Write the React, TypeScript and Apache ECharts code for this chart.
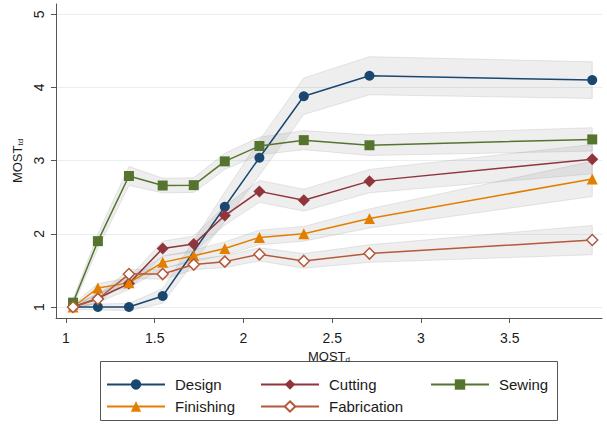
import React, { useEffect, useRef } from "react";
import * as echarts from "echarts";

const xValues = [1.04, 1.18, 1.355, 1.545, 1.72, 1.895, 2.09, 2.34, 2.71, 3.965];

const design = [1.0, 1.0, 1.0, 1.15, null, 2.37, 3.04, 3.88, 4.16, 4.1];
const cutting = [1.0, 1.12, 1.32, 1.8, 1.86, 2.25, 2.58, 2.46, 2.72, 3.02];
const sewing = [1.06, 1.9, 2.79, 2.66, 2.665, 2.99, 3.2, 3.28, 3.21, 3.29];
const finishing = [1.0, 1.26, 1.33, 1.61, 1.7, 1.8, 1.95, 2.0, 2.21, 2.75];
const fabrication = [1.0, 1.11, 1.45, 1.45, 1.58, 1.62, 1.72, 1.63, 1.73, 1.915];

// confidence-band half widths read from the grey ribbons
const designCI = [0.03, 0.04, 0.05, 0.1, null, 0.2, 0.24, 0.25, 0.26, 0.25];
const cuttingCI = [0.03, 0.06, 0.08, 0.1, 0.11, 0.13, 0.15, 0.15, 0.16, 0.2];
const sewingCI = [0.05, 0.1, 0.13, 0.1, 0.1, 0.11, 0.12, 0.13, 0.14, 0.16];
const finishingCI = [0.03, 0.06, 0.07, 0.08, 0.08, 0.09, 0.1, 0.1, 0.13, 0.24];
const fabricationCI = [0.03, 0.05, 0.06, 0.07, 0.07, 0.08, 0.09, 0.1, 0.12, 0.2];

const xTicks = [1, 1.5, 2, 2.5, 3, 3.5];
const yTicks = [1, 2, 3, 4, 5];

const FONT = "'Liberation Sans', Arial, sans-serif";

const bandSeries = (ys: (number | null)[], ci: (number | null)[]) => ({
  type: "custom",
  silent: true,
  z: 1,
  data: [[xValues[0], ys[0]]],
  encode: { x: 0, y: 1 },
  renderItem: (_params: any, api: any) => {
    const upper: number[][] = [];
    const lower: number[][] = [];
    xValues.forEach((x, i) => {
      const y = ys[i];
      const c = ci[i];
      if (y == null || c == null) return;
      upper.push(api.coord([x, y + c]));
      lower.push(api.coord([x, y - c]));
    });
    return {
      type: "polygon",
      shape: { points: upper.concat(lower.reverse()) },
      style: {
        fill: "rgba(150,150,150,0.16)",
        stroke: "rgba(150,150,150,0.22)",
        lineWidth: 1,
      },
    };
  },
});

const lineSeries = (
  name: string,
  ys: (number | null)[],
  color: string,
  symbol: string,
  symbolSize: number | number[],
  hollow = false
) => ({
  type: "line",
  name,
  z: 3,
  data: xValues
    .map((x, i) => [x, ys[i]])
    .filter((p) => p[1] != null),
  symbol,
  symbolSize,
  showAllSymbol: true,
  lineStyle: { color, width: 1.5 },
  itemStyle: hollow
    ? { color: "#ffffff", borderColor: color, borderWidth: 1.5 }
    : { color, borderColor: color, borderWidth: 0 },
  emphasis: { disabled: true },
});

const legendBase = {
  orient: "vertical",
  top: 377,
  padding: 0,
  itemWidth: 58,
  itemHeight: 13,
  itemGap: 7,
  textStyle: {
    fontSize: 15,
    lineHeight: 15,
    color: "#1a1a1a",
    fontFamily: FONT,
    padding: [0, 0, 0, 5],
  },
};

export default function App() {
  const ref = useRef<HTMLDivElement>(null);
  useEffect(() => {
    const chart = echarts.init(ref.current!, null, { renderer: "svg" });
    const option: any = {
      animation: false,
      backgroundColor: "#ffffff",
      textStyle: { fontFamily: FONT },
      grid: { left: 56, right: 5, top: 4, bottom: 107, containLabel: false },
      xAxis: {
        type: "value",
        min: 0.944,
        max: 4.02,
        name: "MOST{sub|d}",
        nameLocation: "middle",
        nameGap: 31,
        nameTextStyle: {
          fontSize: 13,
          color: "#1a1a1a",
          fontFamily: FONT,
          rich: { sub: { fontSize: 8, padding: [6, 0, 0, 0], color: "#1a1a1a", fontFamily: FONT } },
        },
        axisLine: { show: true, lineStyle: { color: "#555", width: 1 } },
        axisTick: { show: true, length: 5, customValues: xTicks, lineStyle: { color: "#555" } },
        axisLabel: { customValues: xTicks, fontSize: 14, color: "#1a1a1a", margin: 13, fontFamily: FONT },
        splitLine: { show: false },
      },
      yAxis: {
        type: "value",
        min: 0.85,
        max: 5.14,
        name: "MOST{sub|td}",
        nameLocation: "middle",
        nameRotate: 90,
        nameGap: 32,
        nameTextStyle: {
          fontSize: 13,
          color: "#1a1a1a",
          fontFamily: FONT,
          rich: { sub: { fontSize: 8, padding: [6, 0, 0, 0], color: "#1a1a1a", fontFamily: FONT } },
        },
        axisLine: { show: true, lineStyle: { color: "#555", width: 1 } },
        axisTick: { show: true, length: 5, customValues: yTicks, lineStyle: { color: "#555" } },
        axisLabel: { customValues: yTicks, fontSize: 14, color: "#1a1a1a", rotate: 90, margin: 10, fontFamily: FONT },
        splitLine: { show: true, lineStyle: { color: "#e6eff1", width: 1 } },
      },
      legend: [
        { ...legendBase, left: 106, data: ["Design", "Finishing"] },
        { ...legendBase, left: 260, data: ["Cutting", "Fabrication"] },
        { ...legendBase, left: 430, data: ["Sewing"] },
      ],
      graphic: [
        {
          type: "rect",
          shape: { x: 100.5, y: 361.5, width: 457, height: 59 },
          style: { fill: "none", stroke: "#555", lineWidth: 1 },
          silent: true,
        },
      ],
      series: [
        bandSeries(design, designCI),
        bandSeries(sewing, sewingCI),
        bandSeries(cutting, cuttingCI),
        bandSeries(finishing, finishingCI),
        bandSeries(fabrication, fabricationCI),
        lineSeries("Design", design, "#1a476f", "circle", 10),
        lineSeries("Cutting", cutting, "#90353b", "diamond", 12),
        lineSeries("Sewing", sewing, "#55752f", "rect", 10),
        lineSeries("Finishing", finishing, "#e37e00", "triangle", 11),
        lineSeries("Fabrication", fabrication, "#b5593a", "diamond", 11, true),
      ],
    };
    chart.setOption(option);
    return () => chart.dispose();
  }, []);
  return (
    <div
      ref={ref}
      style={{ position: "absolute", left: 0, top: 0, width: 607, height: 425 }}
    />
  );
}
